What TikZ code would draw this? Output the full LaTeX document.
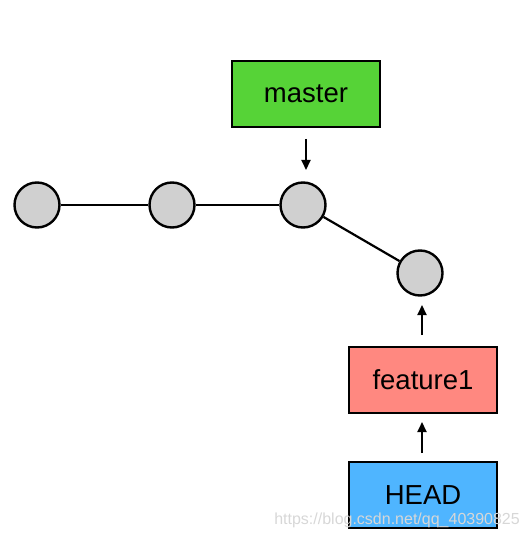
\documentclass[tikz,border=0pt]{standalone}
\usepackage{fontspec}
\setmainfont{Liberation Sans}
\usetikzlibrary{arrows.meta}
\definecolor{mgreen}{RGB}{86,211,55}
\definecolor{fred}{RGB}{255,136,128}
\definecolor{hblue}{RGB}{79,181,255}
\definecolor{cgray}{RGB}{208,208,208}
\definecolor{wmark}{RGB}{215,215,215}
\begin{document}
\begin{tikzpicture}[x=1pt,y=-1pt,
  commit/.style={circle,draw=black,fill=cgray,line width=2.4pt,minimum size=45pt,inner sep=0pt},
  refbox/.style={draw=black,line width=1.8pt,minimum width=148pt,minimum height=66pt,inner sep=0pt,font=\fontsize{27.5}{31}\selectfont},
  edge/.style={line width=2.2pt},
  ptr/.style={line width=2pt,-{Triangle[length=10pt,width=9pt]}}]
\useasboundingbox (0,0) rectangle (529,540);
\node[commit] (c1) at (37,205) {};
\node[commit] (c2) at (172,205) {};
\node[commit] (c3) at (303,205) {};
\node[commit] (c4) at (420,273) {};
\draw[edge] (c1) -- (c2);
\draw[edge] (c2) -- (c3);
\draw[edge] (c3) -- (c4);
\node[refbox,fill=mgreen] (master) at (306,94) {master};
\node[refbox,fill=fred] (feat) at (423,380) {feature1};
\node[refbox,fill=hblue] (head) at (423,495) {HEAD};
\coordinate (ma) at (306,139);
\coordinate (mb) at (306,170);
\draw[ptr] (ma) -- (mb);
\coordinate (fa) at (422,335);
\coordinate (fb) at (422,305);
\draw[ptr] (fa) -- (fb);
\coordinate (ha) at (422,453);
\coordinate (hb) at (422,422);
\draw[ptr] (ha) -- (hb);
\node[text=wmark,font=\fontsize{16}{18}\selectfont,anchor=east,inner sep=0pt] (wm) at (520,520) {https://blog.csdn.net/qq\_40390825};
\end{tikzpicture}
\end{document}
